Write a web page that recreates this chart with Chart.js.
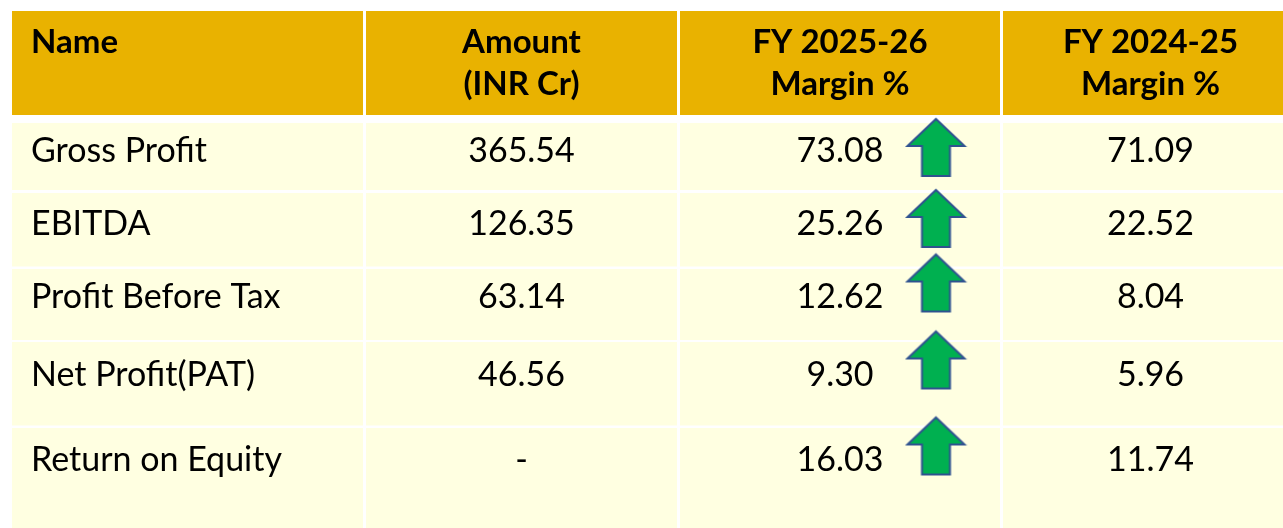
<!DOCTYPE html>
<html>
<head>
<meta charset="utf-8">
<script src="https://cdn.jsdelivr.net/npm/chart.js@4/dist/chart.umd.min.js"></script>
<style>
  html, body { margin: 0; padding: 0; background: #ffffff; overflow: hidden; }
  #wrap { width: 1283px; height: 528px; }
</style>
</head>
<body>
<div id="wrap"><canvas id="c" width="1283" height="528"></canvas></div>
<script>
// ---------- data ----------
const headerLabels = [["Name"], ["Amount", "(INR Cr)"], ["FY 2025-26", "Margin %"], ["FY 2024-25", "Margin %"]];
const rowNames = ["Gross Profit", "EBITDA", "Profit Before Tax", "Net Profit(PAT)", "Return on Equity"];
const amountInrCr = [365.54, 126.35, 63.14, 46.56, null];
const marginFY2526 = [73.08, 25.26, 12.62, 9.30, 16.03];
const marginFY2425 = [71.09, 22.52, 8.04, 5.96, 11.74];

// ---------- layout (scale units = pixels) ----------
const colBounds = [[12, 363], [366, 677], [680, 1000], [1003, 1298]];
const headerBounds = { top: 11, bottom: 115, lines: [53, 95] };
const rowBounds = [
  { top: 123, bottom: 190,   base: 162, arrowY: 147.5 },
  { top: 193, bottom: 266.5, base: 235, arrowY: 218.5 },
  { top: 269, bottom: 340,   base: 308, arrowY: 283 },
  { top: 342, bottom: 425.5, base: 386, arrowY: 360 },
  { top: 428, bottom: 560,   base: 471, arrowY: 446 }
];
const nameTextX = 31;
const arrowX = 936;

// ---------- styles ----------
const HEADER_BG = '#E9B200';
const ROW_BG = '#FFFFE1';
const FONT_FAMILY = 'Lato, "Open Sans", sans-serif';
const HEADER_FONT_SIZE = 33;
const BODY_FONT_SIZE = 34;

// arrow point style
function makeArrow() {
  const w = 57, h = 57, pad = 3;
  const cv = document.createElement('canvas');
  cv.width = w + pad * 2; cv.height = h + pad * 2;
  const g = cv.getContext('2d');
  const cx = cv.width / 2, top = pad, headH = 27, shaftW = 28;
  g.beginPath();
  g.moveTo(cx, top);
  g.lineTo(cx + w / 2, top + headH);
  g.lineTo(cx + shaftW / 2, top + headH);
  g.lineTo(cx + shaftW / 2, top + h);
  g.lineTo(cx - shaftW / 2, top + h);
  g.lineTo(cx - shaftW / 2, top + headH);
  g.lineTo(cx - w / 2, top + headH);
  g.closePath();
  g.fillStyle = '#00B050';
  g.fill();
  g.lineWidth = 2;
  g.lineJoin = 'miter';
  g.strokeStyle = '#2F528F';
  g.stroke();
  return cv;
}
const arrowImg = makeArrow();

const arrowPoints = [];
marginFY2526.forEach((v, i) => {
  if (v > marginFY2425[i]) arrowPoints.push({ x: arrowX, y: rowBounds[i].arrowY });
});

const tablePlugin = {
  id: 'tablePlugin',
  beforeDatasetsDraw(chart) {
    const ctx = chart.ctx, xs = chart.scales.x, ys = chart.scales.y;
    ctx.save();
    const rect = (x0, x1, y0, y1, color) => {
      const px0 = xs.getPixelForValue(x0), px1 = xs.getPixelForValue(x1);
      const py0 = ys.getPixelForValue(y0), py1 = ys.getPixelForValue(y1);
      ctx.fillStyle = color;
      ctx.fillRect(px0, Math.min(py0, py1), px1 - px0, Math.abs(py1 - py0));
    };
    colBounds.forEach(([x0, x1]) => {
      rect(x0, x1, headerBounds.top, headerBounds.bottom, HEADER_BG);
      rowBounds.forEach(r => rect(x0, x1, r.top, r.bottom, ROW_BG));
    });
    ctx.restore();
  },
  afterDatasetsDraw(chart) {
    const ctx = chart.ctx, xs = chart.scales.x, ys = chart.scales.y;
    ctx.save();
    ctx.fillStyle = '#000000';
    ctx.textBaseline = 'alphabetic';
    // header
    ctx.font = 'bold ' + HEADER_FONT_SIZE + 'px ' + FONT_FAMILY;
    headerLabels.forEach((lines, c) => {
      lines.forEach((t, li) => {
        const y = ys.getPixelForValue(headerBounds.lines[li]);
        if (c === 0) {
          ctx.textAlign = 'left';
          ctx.fillText(t, xs.getPixelForValue(nameTextX), y);
        } else {
          ctx.textAlign = 'center';
          ctx.fillText(t, xs.getPixelForValue((colBounds[c][0] + colBounds[c][1]) / 2), y);
        }
      });
    });
    // body
    ctx.font = BODY_FONT_SIZE + 'px ' + FONT_FAMILY;
    const fmt = v => (v === null || v === undefined) ? '-' : v.toFixed(2);
    rowNames.forEach((name, i) => {
      const y = ys.getPixelForValue(rowBounds[i].base);
      ctx.textAlign = 'left';
      ctx.fillText(name, xs.getPixelForValue(nameTextX), y);
      ctx.textAlign = 'center';
      const vals = [fmt(amountInrCr[i]), fmt(marginFY2526[i]), fmt(marginFY2425[i])];
      vals.forEach((t, k) => {
        const c = k + 1;
        ctx.fillText(t, xs.getPixelForValue((colBounds[c][0] + colBounds[c][1]) / 2), y);
      });
    });
    ctx.restore();
  }
};

new Chart(document.getElementById('c'), {
  type: 'scatter',
  data: {
    datasets: [{
      label: 'Margin up',
      data: arrowPoints,
      pointStyle: arrowImg,
      pointRadius: 30,
      pointHoverRadius: 30,
      clip: false
    }]
  },
  options: {
    responsive: false,
    animation: false,
    devicePixelRatio: 1,
    layout: { padding: 0, autoPadding: false },
    plugins: { legend: { display: false }, tooltip: { enabled: false } },
    events: [],
    scales: {
      x: { type: 'linear', min: 0, max: 1283, display: false },
      y: { type: 'linear', min: 0, max: 528, reverse: true, display: false }
    }
  },
  plugins: [tablePlugin]
});
</script>
</body>
</html>
